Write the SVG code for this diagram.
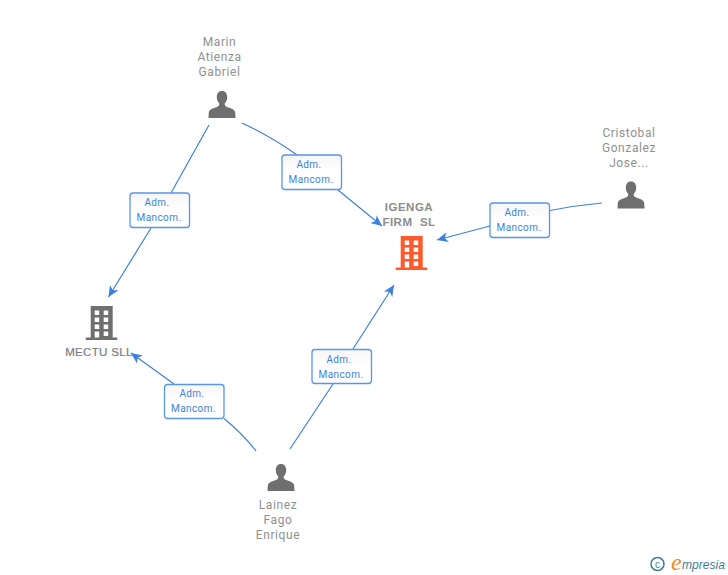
<svg xmlns="http://www.w3.org/2000/svg" width="728" height="575" viewBox="0 0 728 575">
<style>
.n{font:12px/1 Roboto,"Liberation Sans",sans-serif;fill:#909090;text-anchor:middle;letter-spacing:.6px}
.c{font:bold 11.500px "Liberation Sans",Arial,sans-serif;fill:#8c8c8c;text-anchor:middle;letter-spacing:.5px}
.m{font:11.500px "Liberation Sans",Arial,sans-serif;fill:#7c7c7c;stroke:#7c7c7c;stroke-width:.2;text-anchor:middle;letter-spacing:.35px}
.l{font:10px Roboto,"Liberation Sans",sans-serif;fill:#3b82e0;text-anchor:middle;letter-spacing:.4px}
.e{fill:none;stroke:#3b80e0;stroke-width:1.2}
.b{fill:url(#g);stroke:#5a96e8;stroke-width:1.300}
.p{fill:#6f6f6f}
</style>
<defs>
<linearGradient id="g" x1="0" y1="0" x2="0" y2="1"><stop offset="0" stop-color="#f6f6f6"/><stop offset=".5" stop-color="#fff"/></linearGradient>
<marker id="a" markerWidth="13" markerHeight="12" refX="11" refY="6" orient="auto" markerUnits="userSpaceOnUse"><path d="M0 1 L11 6 L0 11 L3 6Z" fill="#3b80e0"/></marker>
<g id="person"><path d="M13.500 0C10 0 8.300 2.700 8.300 6C8.300 8.800 9.300 11 10.800 12.600C10.800 14.500 10.300 15.300 8.500 16C4.500 17.300 .8 18.200 .3 21.500L0 27H27L26.700 21.500C26.200 18.200 22.500 17.300 18.500 16C16.700 15.300 16.200 14.500 16.200 12.600C17.700 11 18.700 8.800 18.700 6C18.700 2.700 17 0 13.500 0Z"/></g>
<g id="building"><path fill-rule="evenodd" d="M5 0H27V31.500H31.500V34H0V31.500H5ZM9 4.500V9H13.500V4.500ZM18 4.500V9H22.500V4.500ZM9 11.500V16H13.500V11.500ZM18 11.500V16H22.500V11.500ZM9 18.500V23H13.500V18.500ZM18 18.500V23H22.500V18.500ZM9 25.500V31.500H13.500V25.500ZM18 25.500V30H22.500V25.500Z"/></g>
</defs>
<rect width="728" height="575" fill="#fff"/>
<g id="connectors">
<path class="e" d="M209 125L171 193M151 228L108.500 297" marker-end="url(#a)"/>
<path class="e" d="M242 123Q272 137 297 155M338 190L382 226" marker-end="url(#a)"/>
<path class="e" d="M602 203Q575 205.500 550 210.500M490 226L437 240" marker-end="url(#a)"/>
<path class="e" d="M256 451Q242 433 224 418.500M174 384L131 353" marker-end="url(#a)"/>
<path class="e" d="M290 449L333 384M353 349L394 285" marker-end="url(#a)"/>
</g>
<g id="edge-labels">
<g id="label-1"><rect class="b" x="130" y="193" width="59.500" height="34.500" rx="3"/><text class="l" x="157" y="206">Adm.</text><text class="l" x="159" y="221">Mancom.</text></g>
<g id="label-2"><rect class="b" x="282" y="155" width="59.500" height="34.500" rx="3"/><text class="l" x="309" y="168">Adm.</text><text class="l" x="311" y="183">Mancom.</text></g>
<g id="label-3"><rect class="b" x="490" y="203" width="59.500" height="34.500" rx="3"/><text class="l" x="517" y="216">Adm.</text><text class="l" x="519" y="231">Mancom.</text></g>
<g id="label-4"><rect class="b" x="164.500" y="384.500" width="59.500" height="34" rx="3"/><text class="l" x="192" y="397">Adm.</text><text class="l" x="193.500" y="412">Mancom.</text></g>
<g id="label-5"><rect class="b" x="312" y="349.500" width="59.500" height="34" rx="3"/><text class="l" x="339" y="363">Adm.</text><text class="l" x="341" y="378">Mancom.</text></g>
</g>
<g id="node-marin"><use href="#person" class="p" x="208.500" y="91"/><text class="n" x="219.500" y="46">Marin</text><text class="n" x="219.500" y="61">Atienza</text><text class="n" x="219.500" y="76">Gabriel</text></g>
<g id="node-cristobal"><use href="#person" class="p" x="617.500" y="181.500"/><text class="n" x="629" y="137">Cristobal</text><text class="n" x="629" y="152">Gonzalez</text><text class="n" x="629" y="167">Jose...</text></g>
<g id="node-lainez"><use href="#person" class="p" x="267.500" y="464"/><text class="n" x="278" y="509">Lainez</text><text class="n" x="278" y="524">Fago</text><text class="n" x="278" y="539">Enrique</text></g>
<g id="node-igenga"><use href="#building" fill="#ff5a2b" x="395.700" y="236"/><text class="c" x="409" y="211">IGENGA</text><text class="c" x="409" y="226" xml:space="preserve">FIRM  SL</text></g>
<g id="node-mectu"><use href="#building" class="p" x="85.700" y="306"/><text class="m" x="99" y="356">MECTU SLL</text></g>
<g id="watermark"><circle cx="657.500" cy="564" r="6.500" fill="none" stroke="#3f7d96" stroke-width="1.500"/><text x="657.500" y="567.500" font-family="Liberation Sans,sans-serif" font-size="10" fill="#3f7d96" text-anchor="middle">c</text><text x="671" y="570" font-family="Liberation Serif,serif" font-style="italic" font-size="24" fill="#f08a1d">e</text><text x="682" y="569" font-family="Liberation Sans,sans-serif" font-style="italic" font-size="12.500" fill="#3f7d96" textLength="43" lengthAdjust="spacingAndGlyphs">mpresia</text></g>
</svg>
